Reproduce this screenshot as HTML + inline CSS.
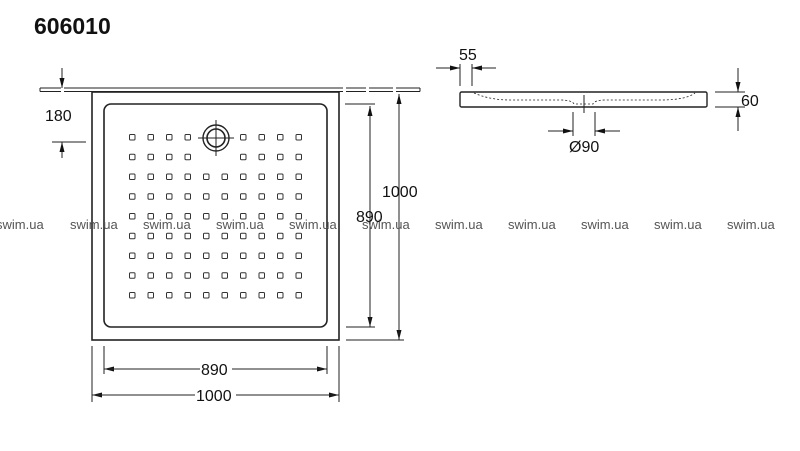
<!DOCTYPE html>
<html><head><style>
html,body{margin:0;padding:0;background:#fff;width:800px;height:451px;overflow:hidden}
svg{display:block}
text{font-family:"Liberation Sans",sans-serif}
</style></head><body>
<svg width="800" height="451" viewBox="0 0 800 451" xmlns="http://www.w3.org/2000/svg">
<defs>
<marker id="a" markerWidth="10" markerHeight="6" refX="10" refY="3" orient="auto" markerUnits="userSpaceOnUse"><path d="M0,0.5 L10,3 L0,5.5 z" fill="#111"/></marker>
<g id="half">
<rect x="129.5" y="0" width="5.5" height="5.5" rx="1"/>
<rect x="148" y="0" width="5.5" height="5.5" rx="1"/>
<rect x="166.5" y="0" width="5.5" height="5.5" rx="1"/>
<rect x="185" y="0" width="5.5" height="5.5" rx="1"/>
<rect x="240.5" y="0" width="5.5" height="5.5" rx="1"/>
<rect x="259" y="0" width="5.5" height="5.5" rx="1"/>
<rect x="277.5" y="0" width="5.5" height="5.5" rx="1"/>
<rect x="296" y="0" width="5.5" height="5.5" rx="1"/>
</g>
<g id="full">
<use href="#half"/>
<rect x="203.5" y="0" width="5.5" height="5.5" rx="1"/>
<rect x="222" y="0" width="5.5" height="5.5" rx="1"/>
</g>
</defs>
<text x="34" y="34" font-size="23" font-weight="bold" fill="#111">606010</text>
<g stroke="#222" fill="none" stroke-width="1">
<path d="M40,88 H61 M64,88 H343 M346,88 H366 M369,88 H393 M396,88 H420 M40,91.5 H61 M64,91.5 H343 M346,91.5 H366 M369,91.5 H393 M396,91.5 H420 M40,88 V91.5 M420,88 V91.5"/>
<path d="M62,68 V88" marker-end="url(#a)"/>
<path d="M62,158 V142" marker-end="url(#a)"/>
<path d="M52,142 H86"/>
<rect x="92" y="92" width="247" height="248" stroke-width="1.6" fill="#fff"/>
<rect x="104" y="104" width="223" height="223" rx="7" stroke-width="1.6"/>
<circle cx="216" cy="138" r="13" stroke-width="1.4"/>
<circle cx="216" cy="138" r="9" stroke-width="1.6"/>
<path d="M198,138 H234 M216,120 V156"/>
<path d="M345,104 H375 M346,327 H375 M346,340 H404"/>
<path d="M370,106 V327" marker-end="url(#a)"/>
<path d="M370,325 V106" marker-end="url(#a)"/>
<path d="M399,94 V340" marker-end="url(#a)"/>
<path d="M399,338 V94" marker-end="url(#a)"/>
<path d="M104,346 V374 M327,346 V374 M92,346 V402 M339,346 V402"/>
<path d="M140,369 H104" marker-end="url(#a)"/>
<path d="M290,369 H327" marker-end="url(#a)"/>
<path d="M190,395 H92" marker-end="url(#a)"/>
<path d="M238,395 H339" marker-end="url(#a)"/>
<path d="M104,369 H200 M232,369 H327 M92,395 H195 M236,395 H339"/>
<rect x="460" y="92" width="247" height="15" rx="1.5" stroke-width="1.4"/>
<path d="M474,93 Q490,100 510,100 H560 Q572,100 574,104 H593 Q595,100 605,100 H660 Q686,100 695,93" stroke-dasharray="2,2" stroke-width="0.8"/>
<path d="M584,95 V113"/>
<path d="M460,64 V86 M472,64 V86"/>
<path d="M436,68 H460" marker-end="url(#a)"/>
<path d="M496,68 H472" marker-end="url(#a)"/>
<path d="M715,92 H745 M715,107 H745"/>
<path d="M738,68 V92" marker-end="url(#a)"/>
<path d="M738,131 V107" marker-end="url(#a)"/>
<path d="M573,112 V136 M595,112 V136"/>
<path d="M548,131 H573" marker-end="url(#a)"/>
<path d="M620,131 H595" marker-end="url(#a)"/>
</g>
<g fill="none" stroke="#333" stroke-width="1">
<use href="#half" y="134.5"/>
<use href="#half" y="154.25"/>
<use href="#full" y="174"/>
<use href="#full" y="193.75"/>
<use href="#full" y="213.5"/>
<use href="#full" y="233.25"/>
<use href="#full" y="253"/>
<use href="#full" y="272.75"/>
<use href="#full" y="292.5"/>
</g>
<g fill="#111" font-size="16">
<text x="45" y="121">180</text>
<text x="356" y="222">890</text>
<text x="382" y="197">1000</text>
<text x="201" y="375">890</text>
<text x="196" y="401">1000</text>
<text x="459" y="60">55</text>
<text x="741" y="106">60</text>
<text x="569" y="152">Ø90</text>
</g>
<g fill="#555" font-size="13">
<text x="-4" y="229">swim.ua</text>
<text x="70" y="229">swim.ua</text>
<text x="143" y="229">swim.ua</text>
<text x="216" y="229">swim.ua</text>
<text x="289" y="229">swim.ua</text>
<text x="362" y="229">swim.ua</text>
<text x="435" y="229">swim.ua</text>
<text x="508" y="229">swim.ua</text>
<text x="581" y="229">swim.ua</text>
<text x="654" y="229">swim.ua</text>
<text x="727" y="229">swim.ua</text>
</g>
</svg>
</body></html>
